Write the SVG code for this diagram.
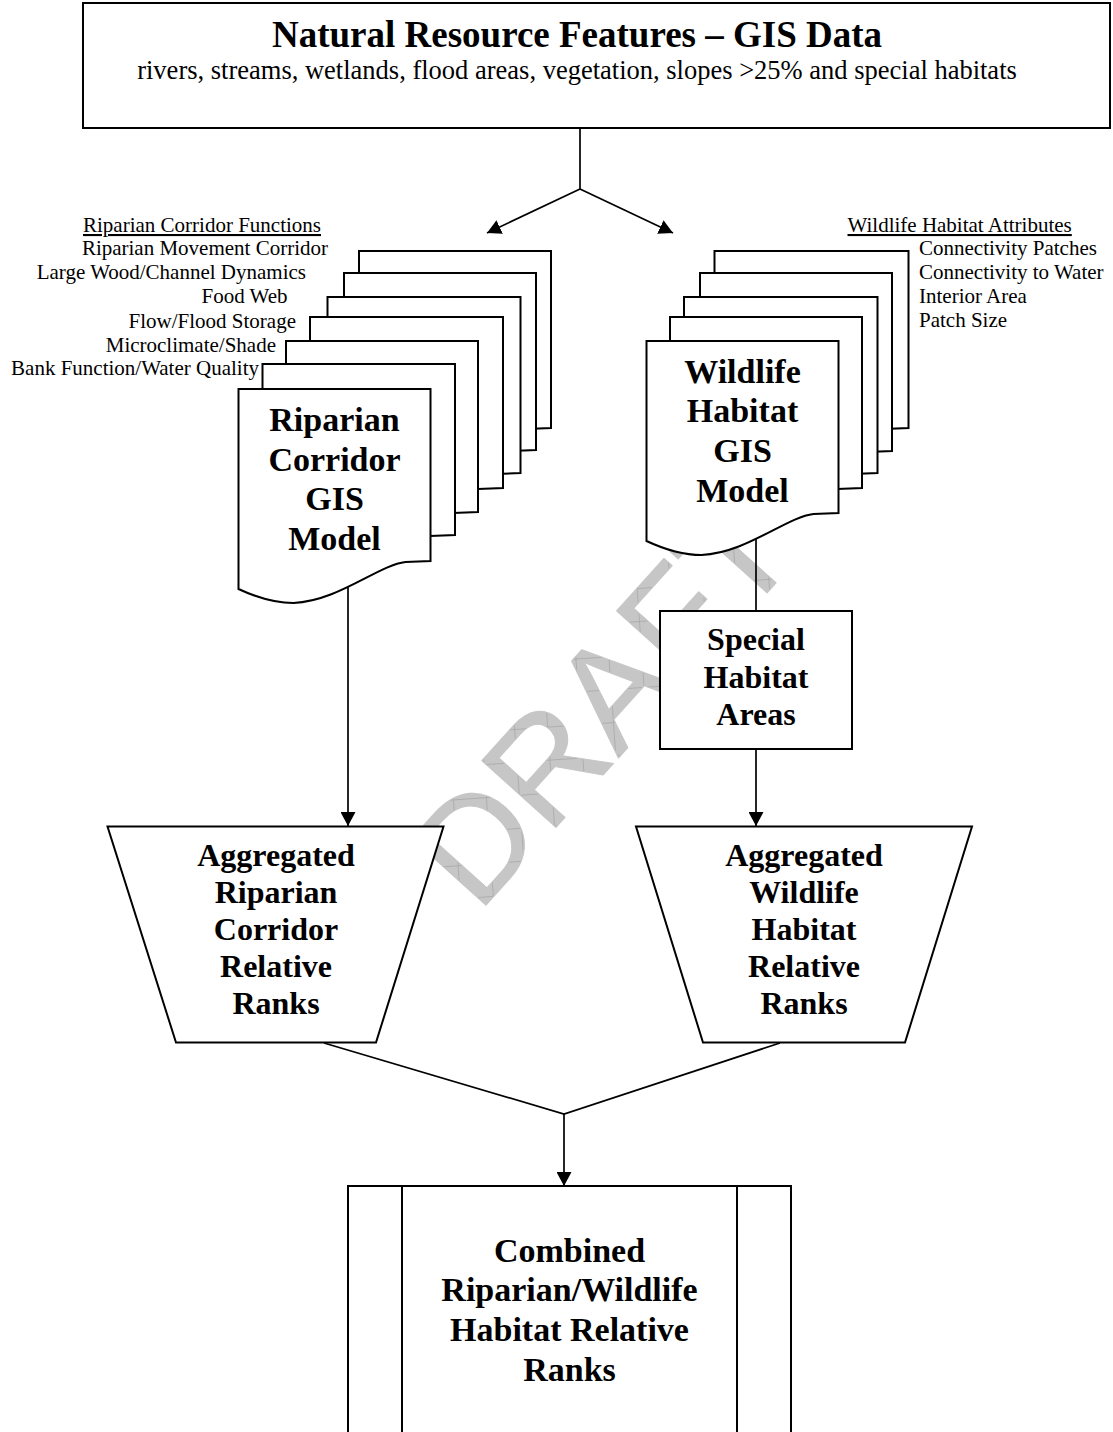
<svg xmlns="http://www.w3.org/2000/svg" width="1113" height="1432" viewBox="0 0 1113 1432">
<defs>
<style>
.shape{fill:#fff;stroke:#000;stroke-width:2}
.conn{fill:none;stroke:#000;stroke-width:1.7}
.lbl{font-family:"Liberation Serif","Times New Roman",serif;font-size:21px;fill:#000}
.hd{font-family:"Liberation Serif","Times New Roman",serif;font-weight:bold;fill:#000;text-anchor:middle}
.wm{font-family:"Liberation Sans",Arial,sans-serif;font-size:145px;fill:url(#hatch);stroke:#c6c6c6;stroke-width:1;stroke-linejoin:round}
</style>
<pattern id="hatch" width="33" height="33" patternUnits="userSpaceOnUse" patternTransform="rotate(-46)">
<rect width="33" height="33" fill="#c6c6c6"/>
<path d="M0,16.5 H33 M16.5,0 V33" stroke="#a8a8a8" stroke-width="0.8"/>
</pattern>
<marker id="arr" viewBox="0 0 14 15" refX="14" refY="7.5" markerWidth="14" markerHeight="15" markerUnits="userSpaceOnUse" orient="auto">
<path d="M0,0 L14,7.5 L0,15 Z" fill="#000"/>
</marker>
</defs>
<rect width="1113" height="1432" fill="#fff"/>

<g id="watermark">
<text class="wm" transform="translate(478,914) rotate(-48)">DRAFT</text>
</g>

<g id="connectors">
<path class="conn" d="M580,128 V189"/>
<path class="conn" d="M580,189 L487,233" marker-end="url(#arr)"/>
<path class="conn" d="M580,189 L673,233" marker-end="url(#arr)"/>
<path class="conn" d="M348,586 V826" marker-end="url(#arr)"/>
<path class="conn" d="M756,538 V611"/>
<path class="conn" d="M756,749 V826" marker-end="url(#arr)"/>
<path class="conn" d="M324,1043 L564,1114 L780,1043"/>
<path class="conn" d="M564,1114 V1186" marker-end="url(#arr)"/>
</g>

<g id="source">
<rect class="shape" x="83" y="3" width="1027" height="125"/>
<text class="hd" x="577" y="47" font-size="37">Natural Resource Features – GIS Data</text>
<text class="lbl" x="577" y="79" text-anchor="middle" style="font-size:26.5px">rivers, streams, wetlands, flood areas, vegetation, slopes &gt;25% and special habitats</text>
</g>

<g id="riparian-labels">
<text class="lbl" x="321" y="232" text-anchor="end" text-decoration="underline">Riparian Corridor Functions</text>
<text class="lbl" x="328" y="255" text-anchor="end">Riparian Movement Corridor</text>
<text class="lbl" x="306" y="279" text-anchor="end">Large Wood/Channel Dynamics</text>
<text class="lbl" x="287.5" y="303" text-anchor="end">Food Web</text>
<text class="lbl" x="296" y="328" text-anchor="end">Flow/Flood Storage</text>
<text class="lbl" x="276" y="352" text-anchor="end">Microclimate/Shade</text>
<text class="lbl" x="259" y="375" text-anchor="end">Bank Function/Water Quality</text>
</g>

<g id="wildlife-labels">
<text class="lbl" x="847.5" y="232" text-decoration="underline">Wildlife Habitat Attributes</text>
<text class="lbl" x="919" y="255">Connectivity Patches</text>
<text class="lbl" x="919" y="279">Connectivity to Water</text>
<text class="lbl" x="919" y="303">Interior Area</text>
<text class="lbl" x="919" y="327">Patch Size</text>
</g>

<g id="riparian-model">
<path class="shape" d="M359,251 h192 v177 l-25,1 c-27,3 -67,39 -112,41 c-20,0 -40,-7 -55,-14 z"/>
<path class="shape" d="M344,273 h192 v177 l-25,1 c-27,3 -67,39 -112,41 c-20,0 -40,-7 -55,-14 z"/>
<path class="shape" d="M327.5,297 h193 v176 l-25,1 c-27,3 -67,39 -112,41 c-20,0 -40,-7 -56,-14 z"/>
<path class="shape" d="M310,317 h193 v171 l-25,1 c-27,3 -67,39 -112,41 c-20,0 -40,-7 -56,-14 z"/>
<path class="shape" d="M286,341 h192 v171 l-25,1 c-27,3 -67,39 -112,41 c-20,0 -40,-7 -55,-14 z"/>
<path class="shape" d="M262.5,364 h192.5 v171 l-25,1 c-27,3 -67,39 -112,41 c-20,0 -40,-7 -55.5,-14 z"/>
<path class="shape" d="M238.5,389 h192 v172 l-25,1 c-27,3 -67,39 -112,41 c-20,0 -40,-7 -55,-14 z"/>
<text class="hd" x="334.5" font-size="34"><tspan x="334.5" y="431">Riparian</tspan><tspan x="334.5" y="471">Corridor</tspan><tspan x="334.5" y="510">GIS</tspan><tspan x="334.5" y="550">Model</tspan></text>
</g>

<g id="wildlife-model">
<path class="shape" d="M714.5,251 h194 v177 l-25,1 c-27,3 -67,39 -112,41 c-20,0 -40,-7 -57,-14 z"/>
<path class="shape" d="M700,273 h192 v178 l-25,1 c-27,3 -67,39 -112,41 c-20,0 -40,-7 -55,-14 z"/>
<path class="shape" d="M684,297 h193.5 v176 l-25,1 c-27,3 -67,39 -112,41 c-20,0 -40,-7 -56.5,-14 z"/>
<path class="shape" d="M670,317 h192 v171 l-25,1 c-27,3 -67,39 -112,41 c-20,0 -40,-7 -55,-14 z"/>
<path class="shape" d="M646.5,341 h192 v172 l-25,1 c-27,3 -67,39 -112,41 c-20,0 -40,-7 -55,-14 z"/>
<text class="hd" x="742.5" font-size="34"><tspan x="742.5" y="383">Wildlife</tspan><tspan x="742.5" y="422">Habitat</tspan><tspan x="742.5" y="462">GIS</tspan><tspan x="742.5" y="502">Model</tspan></text>
</g>

<g id="special-habitat">
<rect class="shape" x="660" y="611" width="192" height="138"/>
<text class="hd" x="756" font-size="32"><tspan x="756" y="650">Special</tspan><tspan x="756" y="688">Habitat</tspan><tspan x="756" y="725">Areas</tspan></text>
</g>

<g id="agg-riparian">
<path class="shape" d="M107.5,826.5 H443.5 L376,1042.5 H176 Z"/>
<text class="hd" x="276" font-size="32"><tspan x="276" y="866">Aggregated</tspan><tspan x="276" y="903">Riparian</tspan><tspan x="276" y="940">Corridor</tspan><tspan x="276" y="977">Relative</tspan><tspan x="276" y="1014">Ranks</tspan></text>
</g>

<g id="agg-wildlife">
<path class="shape" d="M636,826.5 H972 L905,1042.5 H703 Z"/>
<text class="hd" x="804" font-size="32"><tspan x="804" y="866">Aggregated</tspan><tspan x="804" y="903">Wildlife</tspan><tspan x="804" y="940">Habitat</tspan><tspan x="804" y="977">Relative</tspan><tspan x="804" y="1014">Ranks</tspan></text>
</g>

<g id="combined">
<rect class="shape" x="348" y="1186" width="443" height="270"/>
<path class="conn" d="M402,1186 V1440 M737,1186 V1440" style="stroke-width:2"/>
<text class="hd" x="569.5" font-size="34"><tspan x="569.5" y="1262">Combined</tspan><tspan x="569.5" y="1301">Riparian/Wildlife</tspan><tspan x="569.5" y="1341">Habitat Relative</tspan><tspan x="569.5" y="1381">Ranks</tspan></text>
</g>
</svg>
